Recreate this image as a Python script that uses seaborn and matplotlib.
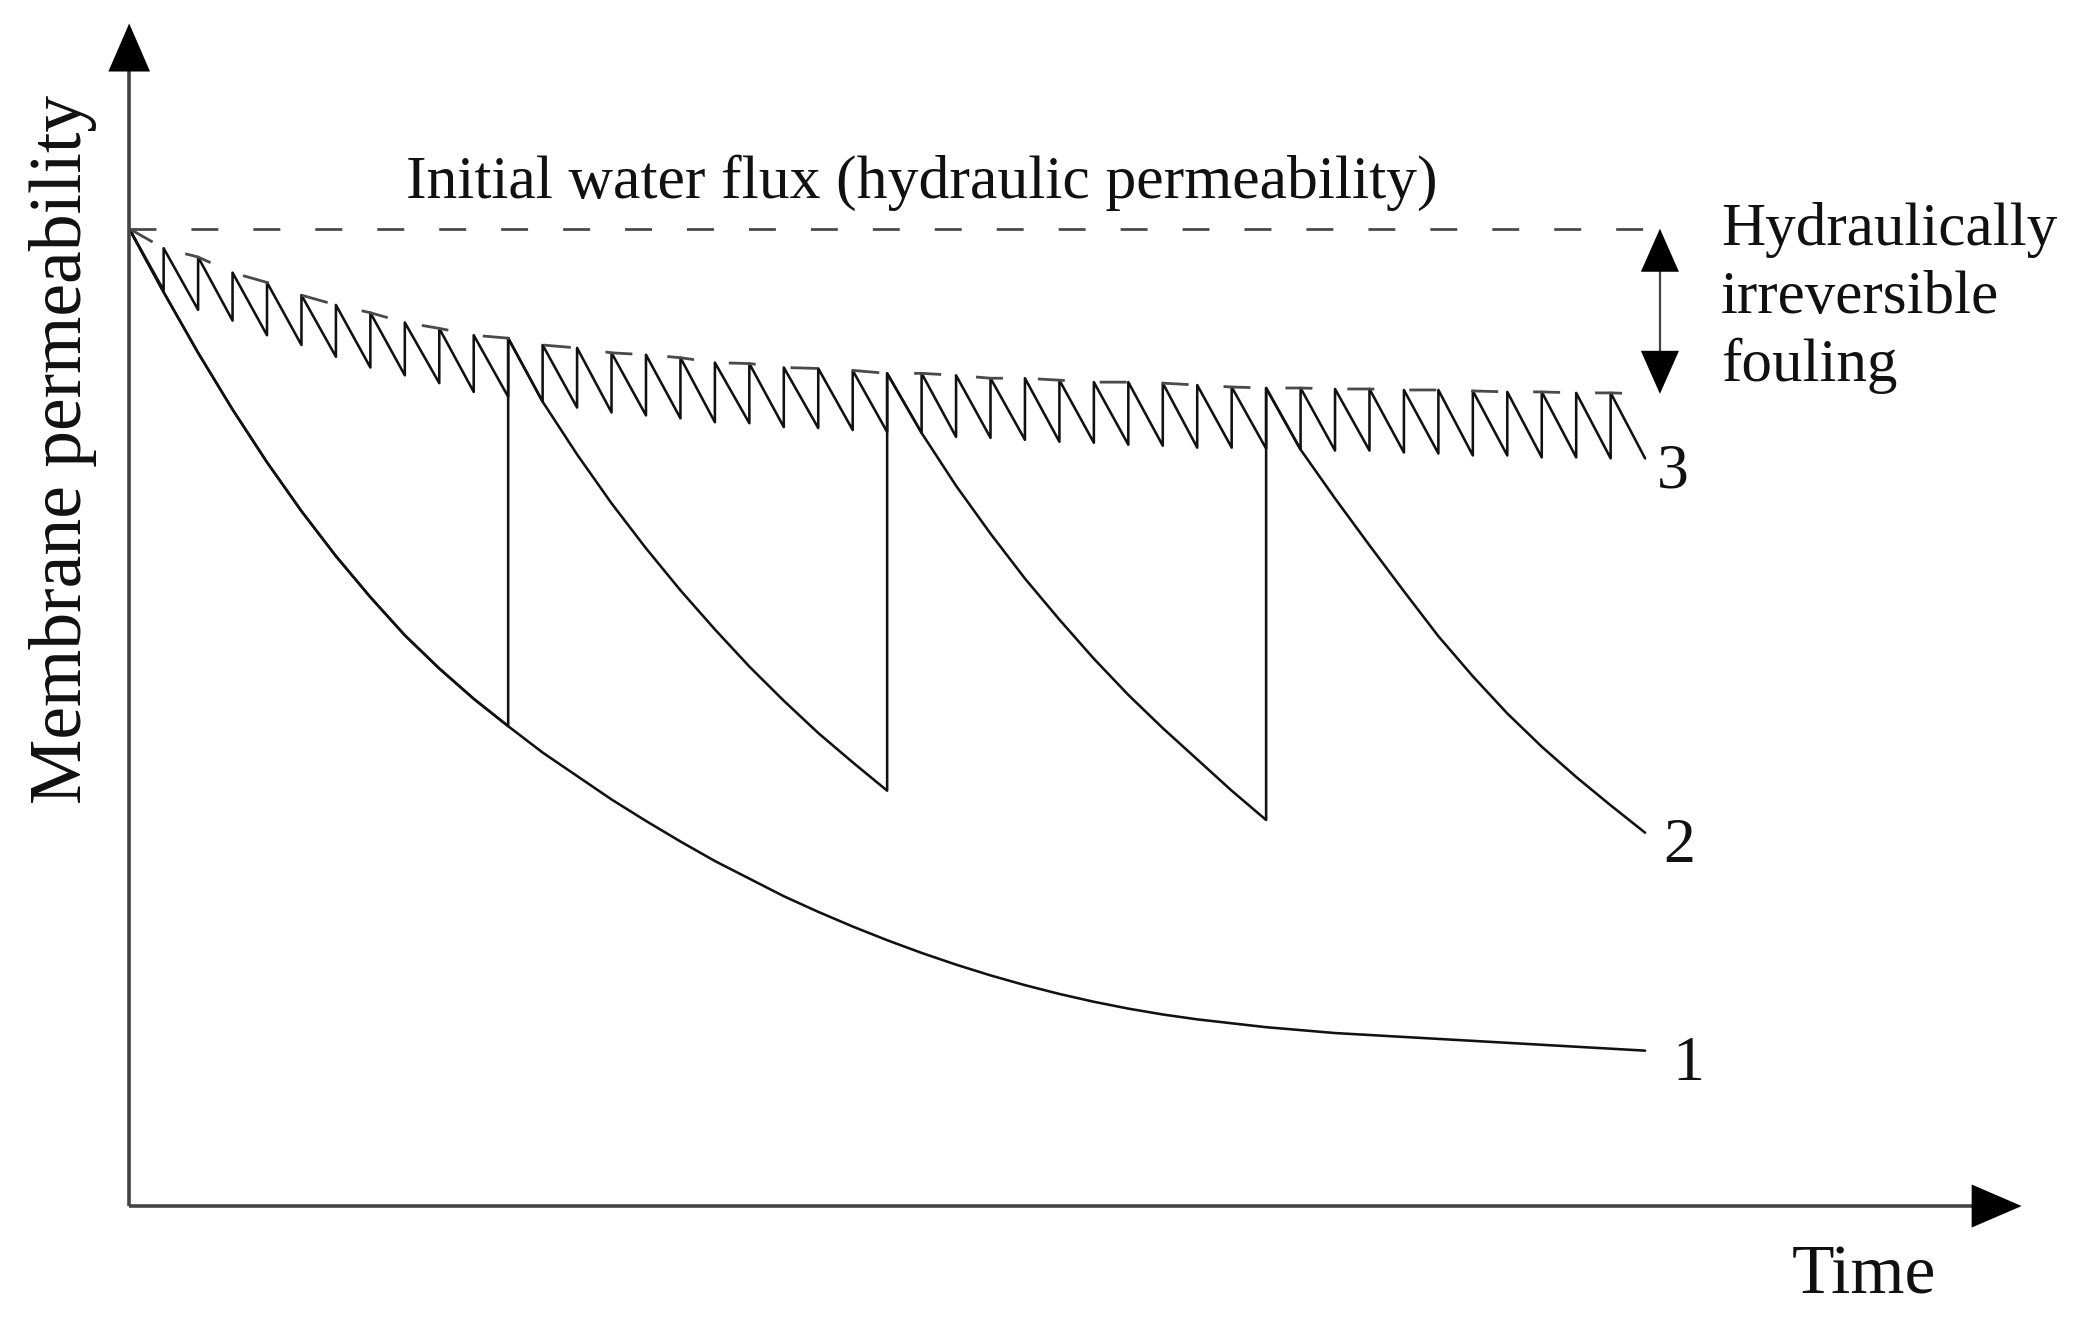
import matplotlib
matplotlib.use("Agg")
import matplotlib.pyplot as plt
import seaborn as sns

# time in filtration cycles, permeability in % of the initial water flux
cycles = list(range(45))

# curve 1: no cleaning
perm_no_cleaning = [100, 93.5, 87.3, 81.5, 76.1, 71.1, 66.5, 62.3, 58.4, 55.0, 51.9, 49.1,
                    46.4, 44.0, 41.6, 39.4, 37.3, 35.3, 33.5, 31.7, 30.1, 28.6, 27.2, 25.9,
                    24.7, 23.6, 22.6, 21.7, 20.9, 20.2, 19.6, 19.1, 18.7, 18.3, 18.0, 17.7,
                    17.5, 17.3, 17.1, 16.9, 16.7, 16.5, 16.3, 16.1, 15.9]

# curve 2: chemical cleaning every 11 cycles
clean_starts = [0, 11, 22, 33]
perm_run1 = [100, 93.5, 87.3, 81.5, 76.1, 71.1, 66.5, 62.3, 58.4, 55.0, 51.9, 49.1]
perm_run2 = [88.8, 82.3, 76.9, 71.9, 67.3, 63.0, 59.0, 55.2, 51.7, 48.4, 45.4, 42.5]
perm_run3 = [85.2, 79.1, 73.7, 68.8, 64.2, 60.0, 56.0, 52.3, 48.9, 45.7, 42.5, 39.5]
perm_run4 = [83.7, 77.4, 72.4, 67.6, 62.9, 58.3, 54.2, 50.4, 47.0, 43.9, 41.0, 38.2]

# curve 3: hydraulic backwash after every cycle
peaks = [100, 98.0, 97.1, 95.5, 94.5, 93.2, 92.2, 91.4, 90.4, 89.8, 89.1, 88.8, 88.1,
         87.8, 87.3, 87.1, 86.8, 86.3, 86.2, 85.8, 85.7, 85.5, 85.2, 85.2, 85.0, 84.7,
         84.7, 84.5, 84.3, 84.3, 84.2, 84.0, 83.8, 83.7, 83.7, 83.6, 83.6, 83.5, 83.5,
         83.4, 83.3, 83.3, 83.2, 83.2, 83.1]
troughs = [93.7, 91.7, 90.6, 89.1, 88.1, 86.9, 85.8, 85.0, 84.2, 83.3, 82.8, 82.3,
           81.7, 81.2, 80.9, 80.6, 80.2, 80.1, 79.7, 79.6, 79.4, 79.2, 79.1, 78.7,
           78.6, 78.4, 78.2, 78.1, 77.9, 77.8, 77.6, 77.6, 77.5, 77.4, 77.3, 77.3,
           77.1, 77.0, 76.8, 76.8, 76.6, 76.6, 76.5, 76.5]

initial_flux = 100

# build the drawn paths
c2_t, c2_p = [], []
for start, run in zip(clean_starts, [perm_run1, perm_run2, perm_run3, perm_run4]):
    for i, v in enumerate(run):
        c2_t.append(start + i)
        c2_p.append(v)

c3_t, c3_p = [0], [peaks[0]]
for i in range(1, len(troughs) + 1):
    c3_t.append(i)
    c3_p.append(troughs[i - 1])
    if i < len(troughs):
        c3_t.append(i)
        c3_p.append(peaks[i])

sns.set_theme(style="white")
plt.rcParams['font.family'] = ['Liberation Serif', 'DejaVu Serif']
plt.rcParams['lines.scale_dashes'] = False

fig = plt.figure(figsize=(20.73, 13.24), dpi=100)
ax = fig.add_axes([0, 0, 1, 1])
ax.set_xlim(-3.75, 56.42)
ax.set_ylim(-12.07, 123.4)
ax.axis('off')

line_col = '#111111'
dash_col = '#4a4a4a'
dash = (0, (19.4, 25.2))
lw = 1.85

sns.lineplot(x=cycles, y=perm_no_cleaning, sort=False, estimator=None, ax=ax,
             color=line_col, lw=lw)
sns.lineplot(x=c2_t, y=c2_p, sort=False, estimator=None, ax=ax, color=line_col, lw=lw)
sns.lineplot(x=c3_t, y=c3_p, sort=False, estimator=None, ax=ax, color=line_col, lw=lw)

# envelope of the peaks and the initial flux level
ax.plot(cycles, peaks, color=dash_col, lw=2.0, linestyle=dash)
ax.plot([cycles[0], cycles[-1]], [initial_flux, initial_flux], color=dash_col, lw=2.0,
        linestyle=dash)

# axes with arrow heads
axis_col = '#444444'
ax.plot([0, 0], [0, 116.2], color=axis_col, lw=2.6, solid_capstyle='butt')
ax.plot([0, 53.6], [0, 0], color=axis_col, lw=2.6, solid_capstyle='butt')
ax.annotate('', xy=(0, 121.0), xytext=(0, 110),
            arrowprops=dict(arrowstyle='-|>,head_length=34.6,head_width=15', mutation_scale=1,
                            color='black', lw=0, shrinkA=0, shrinkB=0))
ax.annotate('', xy=(54.93, 0), xytext=(50, 0),
            arrowprops=dict(arrowstyle='-|>,head_length=36,head_width=15.5', mutation_scale=1,
                            color='black', lw=0, shrinkA=0, shrinkB=0))

# irreversible fouling double arrow
xa = 44.43
mid = (initial_flux + peaks[-1]) / 2
ax.plot([xa, xa], [96, 87.3], color=axis_col, lw=1.6)
for tip in [initial_flux, peaks[-1]]:
    ax.annotate('', xy=(xa, tip), xytext=(xa, mid),
                arrowprops=dict(arrowstyle='-|>,head_length=31,head_width=13.7', mutation_scale=1,
                                color='black', lw=0, shrinkA=0, shrinkB=0))

txt = '#111111'
ax.text(23.0, 103.1, 'Initial water flux (hydraulic permeability)', ha='center', va='baseline',
        fontsize=44.5, color=txt)
for label, yb in zip(['Hydraulically', 'irreversible', 'fouling'], [98.3, 91.4, 84.4]):
    ax.text(46.2, yb, label, ha='left', va='baseline', fontsize=44, color=txt)

ax.text(44.8, 73.5, '3', ha='center', va='baseline', fontsize=46, color=txt)
ax.text(45.0, 35.2, '2', ha='center', va='baseline', fontsize=46, color=txt)
ax.text(45.25, 12.9, '1', ha='center', va='baseline', fontsize=46, color=txt)

ax.text(48.26, -8.9, 'Time', ha='left', va='baseline', fontsize=50, color=txt)
ax.text(-1.92, 77.4, 'Membrane permeability', rotation=90, ha='center', va='center',
        fontsize=53, color=txt)

fig.savefig('out.png', dpi=100)
